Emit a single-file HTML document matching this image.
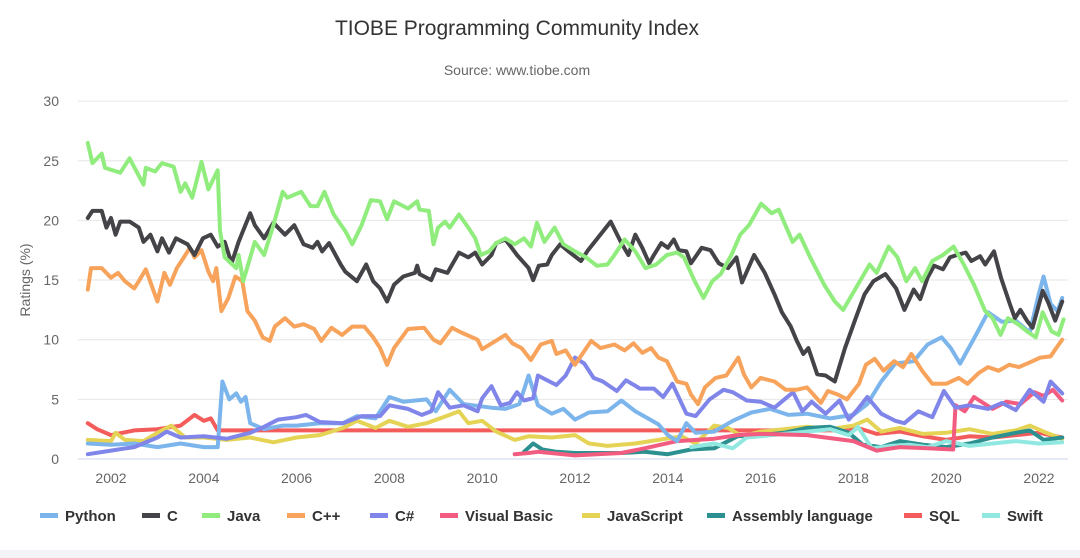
<!DOCTYPE html>
<html><head><meta charset="utf-8"><style>
body{margin:0;background:#fff;width:1080px;height:558px;overflow:hidden;font-family:"Liberation Sans",sans-serif}
</style></head><body>
<svg id="chart" width="1080" height="558" xmlns="http://www.w3.org/2000/svg" style="display:block">
<rect x="0" y="550" width="1080" height="8" fill="#f2f4f7"/>
<text x="517" y="35" text-anchor="middle" font-size="21" fill="#333">TIOBE Programming Community Index</text>
<text x="517" y="75" text-anchor="middle" font-size="14" fill="#666">Source: www.tiobe.com</text>
<text transform="translate(30,280) rotate(-90)" text-anchor="middle" font-size="14" fill="#666">Ratings (%)</text>
<g id="grid"></g><g id="series"></g><g id="legend"></g>
</svg>
<script>
const yTicks=[0,5,10,15,20,25,30];
const xTicks=[2002,2004,2006,2008,2010,2012,2014,2016,2018,2020,2022];
const names=["Python","C","Java","C++","C#","Visual Basic","JavaScript","Assembly language","SQL","Swift"];
const colors=["#7cb5ec","#434348","#90ed7d","#f7a35c","#8085e9","#f15c80","#e4d354","#2b908f","#f45b5b","#91e8e1"];
const pyT=[2001.5,2002,2002.5,2003,2003.5,2004,2004.3,2004.4,2004.55,2004.7,2004.8,2004.9,2005,2005.3,2005.7,2006,2006.5,2007,2007.3,2007.7,2008,2008.3,2008.8,2009,2009.3,2009.6,2010.2,2010.5,2010.8,2011,2011.2,2011.5,2011.75,2012,2012.3,2012.7,2013,2013.3,2013.8,2014,2014.2,2014.4,2014.6,2015,2015.4,2015.8,2016.2,2016.6,2017,2017.5,2018,2018.3,2018.6,2018.9,2019.3,2019.6,2019.9,2020.1,2020.3,2020.6,2020.9,2021.2,2021.5,2021.8,2022,2022.1,2022.25,2022.4,2022.5];
const pyV=[1.3,1.2,1.3,1.0,1.3,1.0,1.0,6.5,5.0,5.5,4.8,5.2,3.0,2.5,2.8,2.8,3.0,3.0,3.6,3.4,5.2,4.8,5.0,4.0,5.8,4.6,4.3,4.2,4.6,7.0,4.5,3.8,4.2,3.3,3.9,4.0,4.9,4.0,2.9,2.0,1.5,3.0,2.2,2.3,3.2,3.9,4.2,3.7,3.8,3.4,3.7,4.6,6.5,8.0,8.2,9.6,10.2,9.3,8.0,10.1,12.3,11.5,11.6,10.6,13.9,15.3,13,12.4,13.5];
const cT=[2001.5,2001.6,2001.8,2001.9,2002,2002.1,2002.2,2002.4,2002.6,2002.7,2002.85,2003,2003.1,2003.25,2003.4,2003.65,2003.8,2003.98,2004.15,2004.3,2004.45,2004.6,2004.75,2005,2005.1,2005.3,2005.5,2005.75,2005.95,2006.15,2006.35,2006.45,2006.55,2006.7,2006.95,2007.05,2007.3,2007.5,2007.65,2007.8,2007.95,2008.1,2008.3,2008.55,2008.6,2008.65,2008.9,2009,2009.25,2009.5,2009.7,2009.85,2010,2010.2,2010.3,2010.5,2010.75,2011,2011.1,2011.22,2011.4,2011.5,2011.68,2011.86,2012.13,2012.28,2012.77,2013,2013.15,2013.3,2013.45,2013.6,2013.7,2013.86,2014,2014.13,2014.24,2014.4,2014.5,2014.73,2014.92,2015.1,2015.3,2015.48,2015.6,2015.86,2016.09,2016.3,2016.46,2016.65,2016.77,2016.92,2017.03,2017.22,2017.4,2017.6,2017.82,2018.05,2018.24,2018.43,2018.69,2018.92,2019.1,2019.3,2019.44,2019.6,2019.74,2019.93,2020.08,2020.23,2020.42,2020.54,2020.73,2020.84,2021.03,2021.18,2021.37,2021.48,2021.6,2021.74,2021.86,2022.08,2022.2,2022.35,2022.5];
const cV=[20.2,20.8,20.8,19.4,20.2,18.8,19.9,19.9,19.4,18.2,18.8,17.4,18.5,17.3,18.5,18,17.1,18.5,18.8,17.8,18.2,16.4,18.2,20.6,19.6,18.5,19.8,18.8,19.6,18,17.7,18.2,17.4,18.1,16.3,15.7,14.9,16.3,14.9,14.3,13.2,14.6,15.3,15.6,16.2,15.5,15,15.9,15.6,17.3,16.9,17.3,16.3,17.1,18.1,18.4,17.1,16,15,16.2,16.3,17.1,18,17.4,16.6,17.5,19.9,18.1,17.1,18.8,17.7,16.4,17.1,18.1,17.7,18.4,17.5,17.4,16.4,17.7,17.5,16.4,16,16.9,14.8,17.1,15.6,13.8,12.3,11.1,10,8.8,9.3,7.1,7,6.5,9.3,11.8,13.8,14.9,15.5,14.3,12.5,14.2,13.4,15.2,16.2,15.9,16.9,17.1,17.3,16.6,17,16.3,17.4,15.2,13,11.8,12.5,11.6,11,14.1,13.1,11.6,13.2];
const jT=[2001.5,2001.6,2001.8,2001.87,2002.2,2002.4,2002.7,2002.75,2002.95,2003.1,2003.35,2003.5,2003.6,2003.75,2003.95,2004.1,2004.3,2004.35,2004.45,2004.7,2004.75,2004.85,2005.1,2005.3,2005.5,2005.7,2005.8,2006.1,2006.3,2006.45,2006.6,2006.8,2007.05,2007.2,2007.4,2007.6,2007.8,2007.95,2008.1,2008.4,2008.6,2008.65,2008.85,2008.95,2009.05,2009.2,2009.3,2009.5,2009.7,2009.85,2009.97,2010.15,2010.3,2010.5,2010.7,2010.9,2011.05,2011.18,2011.34,2011.56,2011.75,2012,2012.24,2012.47,2012.7,2012.85,2013.07,2013.3,2013.52,2013.75,2013.98,2014.2,2014.35,2014.58,2014.77,2014.96,2015.14,2015.37,2015.56,2015.75,2016.01,2016.24,2016.39,2016.69,2016.84,2017.07,2017.37,2017.6,2017.78,2018.05,2018.35,2018.5,2018.76,2018.95,2019.14,2019.33,2019.48,2019.7,2019.93,2020.16,2020.38,2020.6,2020.84,2021,2021.17,2021.33,2021.55,2021.74,2021.93,2022.08,2022.27,2022.42,2022.53];
const jV=[26.5,24.8,25.6,24.4,24,25.2,23,24.4,24.1,24.8,24.5,22.4,23.1,21.9,24.9,22.6,24.2,19.1,16.9,16,17.1,14.9,18.2,17.1,19.6,22.4,21.9,22.4,21.2,21.2,22.4,20.5,19.1,18,19.6,21.7,21.6,20.1,21.6,21,21.6,20.9,20.8,18,19.4,19.9,19.4,20.5,19.4,18.5,17.1,17.4,18.1,18.5,18,18.5,17.8,19.8,18.2,19.4,18,17.4,16.9,16.2,16.3,17.1,18.4,17.4,16,16.3,17.1,17.3,16.9,14.9,13.5,14.9,15.5,17.1,18.8,19.6,21.4,20.6,20.9,18.2,18.8,16.9,14.6,13.2,12.5,14.3,16.3,15.6,17.8,16.9,14.9,16,14.9,16.6,17.1,17.8,16.3,14.6,12.4,11.8,10.4,11.8,11.3,10.7,10.2,12.3,10.7,10.4,11.7];
const cppT=[2001.5,2001.57,2001.8,2002,2002.15,2002.3,2002.5,2002.6,2002.75,2003,2003.15,2003.27,2003.42,2003.57,2003.7,2003.8,2003.95,2004.1,2004.2,2004.27,2004.38,2004.53,2004.68,2004.83,2004.94,2005.1,2005.27,2005.42,2005.53,2005.75,2005.95,2006.15,2006.38,2006.53,2006.75,2006.98,2007.2,2007.46,2007.65,2007.8,2007.95,2008.1,2008.4,2008.75,2008.95,2009.1,2009.35,2009.55,2009.9,2010,2010.5,2010.65,2010.85,2011.05,2011.26,2011.5,2011.6,2011.8,2012,2012.35,2012.55,2012.85,2013.07,2013.26,2013.45,2013.64,2013.8,2013.98,2014.2,2014.4,2014.5,2014.65,2014.8,2015.03,2015.26,2015.52,2015.64,2015.8,2016,2016.3,2016.54,2016.77,2017,2017.3,2017.45,2017.67,2017.86,2018.12,2018.27,2018.46,2018.65,2018.88,2019.07,2019.25,2019.48,2019.7,2020,2020.27,2020.46,2020.7,2020.9,2021.13,2021.36,2021.57,2021.8,2022.03,2022.25,2022.37,2022.5];
const cppV=[14.2,16,16,15.2,15.6,14.9,14.3,14.9,15.9,13.2,15.6,14.6,16,16.9,17.7,16.9,17.5,15.7,14.9,16,12.4,13.5,15.3,14.9,12.4,11.6,10.2,9.9,11.1,11.8,11.1,11.3,10.9,9.9,11,10.4,11.1,11.1,10.2,9.3,7.9,9.3,10.9,11,10,9.7,11,10.6,10,9.2,10.4,9.7,9.3,8.3,9.6,9.9,8.8,9.1,7.9,9.9,9.3,9.6,9.1,9.7,8.9,9.3,8.5,8.2,6.5,6.3,5.4,4.6,6,6.8,7,8.5,7.1,6,6.8,6.5,5.8,5.8,6,4.7,5.7,5.4,5,6.3,7.9,8.4,7.4,8.2,7.7,8.8,7.4,6.3,6.3,6.8,6.3,7.2,7.7,7.4,7.9,7.7,8.1,8.5,8.6,9.3,10];
const csT=[2001.5,2002,2002.5,2003,2003.2,2003.5,2004,2004.5,2005,2005.3,2005.6,2006,2006.2,2006.5,2007,2007.4,2007.8,2008,2008.4,2008.7,2008.9,2009.05,2009.3,2009.6,2009.9,2010,2010.2,2010.4,2010.6,2010.75,2010.9,2011.1,2011.2,2011.45,2011.6,2011.8,2012,2012.2,2012.4,2012.6,2012.9,2013.1,2013.4,2013.7,2013.9,2014.1,2014.4,2014.6,2014.9,2015.2,2015.4,2015.7,2016,2016.3,2016.7,2016.9,2017.1,2017.4,2017.7,2017.9,2018.1,2018.3,2018.6,2018.9,2019.1,2019.4,2019.7,2019.95,2020.2,2020.5,2020.9,2021.2,2021.5,2021.8,2022.1,2022.25,2022.5];
const csV=[0.4,0.7,1.0,1.8,2.3,1.8,1.9,1.7,2.2,2.7,3.3,3.5,3.7,3.1,3.0,3.6,3.6,4.5,4.2,3.7,4.0,5.6,4.3,4.5,4.0,5.1,6.1,4.5,4.7,5.6,4.9,5.1,7.0,6.5,6.2,7.0,8.5,8.0,6.8,6.5,5.7,6.6,5.9,5.9,5.2,6.3,3.8,3.6,5.0,5.8,5.6,4.9,4.8,4.3,5.6,4.0,4.8,3.8,4.9,3.3,4.2,5.2,3.8,3.2,3.0,4.0,3.5,5.7,4.3,4.5,4.2,4.7,4.1,5.8,4.8,6.5,5.5];
const vbT=[2010.7,2011,2011.2,2012,2013,2013.5,2014.2,2015,2015.5,2016,2017,2018,2018.5,2019,2019.6,2020.15,2020.2,2020.4,2020.6,2021,2021.3,2021.6,2021.9,2022.1,2022.3,2022.5];
const vbV=[0.4,0.5,0.6,0.3,0.5,0.9,1.5,1.7,2.0,2.1,2.0,1.5,0.7,1.0,0.9,0.8,4.5,4.0,5.2,4.2,4.8,4.6,5.6,5.3,5.8,4.9];
const jsT=[2001.5,2002,2002.1,2002.3,2002.7,2003,2003.3,2003.6,2004,2004.5,2005,2005.5,2006,2006.5,2007,2007.3,2007.7,2008,2008.4,2008.8,2009.3,2009.5,2009.7,2010,2010.3,2010.7,2011,2011.5,2012,2012.3,2012.7,2013.3,2013.8,2014.3,2014.6,2015,2015.3,2015.6,2016,2016.5,2017,2017.5,2018,2018.3,2018.6,2019,2019.5,2020,2020.5,2021,2021.5,2021.8,2022.1,2022.5];
const jsV=[1.6,1.5,2.2,1.6,1.5,2.2,2.8,1.8,1.8,1.6,1.8,1.4,1.8,2.0,2.6,3.2,2.6,3.2,2.7,3.0,3.7,4.0,3.0,3.2,2.3,1.6,1.9,1.8,2.0,1.3,1.1,1.3,1.6,1.9,1.3,2.8,2.6,1.9,2.3,2.5,2.7,2.5,2.8,3.3,2.3,2.6,2.1,2.2,2.5,2.1,2.4,2.8,2.3,1.7];
const asmT=[2010.9,2011.1,2011.3,2011.6,2012,2013,2013.5,2014,2014.5,2015,2015.5,2016,2016.5,2017,2017.5,2017.9,2018.2,2018.6,2019,2019.5,2020,2020.5,2021,2021.5,2021.8,2022.1,2022.5];
const asmV=[0.6,1.3,0.8,0.6,0.5,0.5,0.6,0.4,0.8,0.9,1.9,2.0,2.2,2.6,2.7,2.2,1.2,1.0,1.5,1.2,1.0,1.3,1.8,2.2,2.4,1.6,1.8];
const sqlT=[2001.5,2001.7,2002,2002.5,2003,2003.5,2003.8,2004,2004.15,2004.3,2017.9,2018.1,2018.5,2019,2019.5,2020,2020.5,2021,2021.5,2022,2022.5];
const sqlV=[3.0,2.5,2.0,2.4,2.5,2.8,3.7,3.2,3.4,2.4,2.4,2.6,2.1,2.3,1.9,1.6,1.9,1.8,2.0,2.2,1.8];
const swT=[2014.5,2015,2015.4,2015.7,2016,2016.5,2017,2017.5,2017.9,2018.1,2018.4,2018.8,2019.2,2019.6,2020,2020.5,2021,2021.5,2022,2022.5];
const swV=[1.0,1.3,0.9,1.8,1.9,2.1,2.3,2.5,2.0,2.7,0.9,1.1,1.2,1.0,1.5,1.1,1.3,1.5,1.3,1.4];
const seriesT=[pyT,cT,jT,cppT,csT,vbT,jsT,asmT,sqlT,swT];
const seriesV=[pyV,cV,jV,cppV,csV,vbV,jsV,asmV,sqlV,swV];
const NS="http://www.w3.org/2000/svg";
function xS(t){return 111+(t-2002)*46.4;}
function yS(v){return 459-v*11.93;}
const grid=document.getElementById('grid');
yTicks.forEach(v=>{
 const l=document.createElementNS(NS,'line');
 
 
 l.setAttribute('x1',78);l.setAttribute('x2',1068);l.setAttribute('y1',yS(v));l.setAttribute('y2',yS(v));
 l.setAttribute('stroke',v===0?'#ccd6eb':'#e6e6e6');l.setAttribute('stroke-width',1);
 grid.appendChild(l);
 const t=document.createElementNS(NS,'text');
 
 
 t.setAttribute('x',59);t.setAttribute('y',yS(v)+5);t.setAttribute('text-anchor','end');
 t.setAttribute('font-size',14);t.setAttribute('fill','#666');t.textContent=v;
 grid.appendChild(t);
});
xTicks.forEach(yr=>{
 const t=document.createElementNS(NS,'text');
 
 
 t.setAttribute('x',xS(yr));t.setAttribute('y',483);t.setAttribute('text-anchor','middle');
 t.setAttribute('font-size',14);t.setAttribute('fill','#666');t.textContent=yr;
 grid.appendChild(t);
});
const sg=document.getElementById('series');
const order=[8,6,7,9,5,0,4,3,1,2];
order.forEach(i=>{
 const p=document.createElementNS(NS,'path');
 
 
 let d='';seriesT[i].forEach((t,k)=>{d+=(k?'L':'M')+xS(t).toFixed(1)+','+yS(seriesV[i][k]).toFixed(1);});
 p.setAttribute('d',d);p.setAttribute('fill','none');p.setAttribute('stroke',colors[i]);
 p.setAttribute('stroke-width',4);p.setAttribute('stroke-linejoin','round');p.setAttribute('stroke-linecap','round');
 sg.appendChild(p);
});
const lg=document.getElementById('legend');
const lx=[40,142,202,287,370,440,582,707,904,982];
names.forEach((n,i)=>{
 const g=document.createElementNS(NS,'g');
 
 
 const r=document.createElementNS(NS,'rect');
 r.setAttribute('x',lx[i]);r.setAttribute('y',513);r.setAttribute('width',18);r.setAttribute('height',5);r.setAttribute('fill',colors[i]);
 g.appendChild(r);
 const t=document.createElementNS(NS,'text');
 t.setAttribute('x',lx[i]+25);t.setAttribute('y',521);t.setAttribute('font-size',15);t.setAttribute('font-weight','bold');t.setAttribute('fill','#333');
 t.textContent=n;g.appendChild(t);
 lg.appendChild(g);
});
</script>
</body></html>
